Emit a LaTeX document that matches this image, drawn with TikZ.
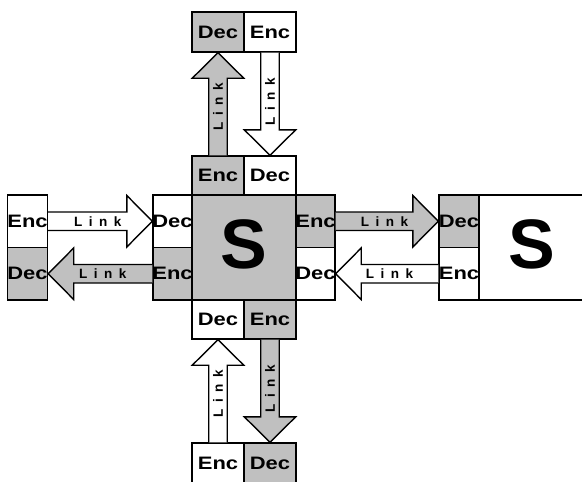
\documentclass[tikz,border=0pt]{standalone}
\usepackage{fontspec}
\setmainfont{Liberation Sans}
\newfontfamily\cellfont[FakeStretch=1.22]{Liberation Sans}
\usetikzlibrary{calc}
\definecolor{unitgray}{HTML}{C0C0C0}

% centred text that never widens its cell
\newcommand\celltext[1]{\makebox[0pt]{#1}}
\newcommand\linkword{L\hspace{6.5pt}i\hspace{6.5pt}n\hspace{6.5pt}k}

% block arrow from #2 to #3, filled with #1, label turned by #4
\newcommand\linkarrow[4]{%
  \path ($(#3)!25.5pt!(#2)$) coordinate (hb);
  \draw[arrowline, fill=#1]
    ($(#2)!9.25pt!90:(#3)$) -- ($(hb)!9.25pt!90:(#3)$)
    -- ($(hb)!25.75pt!90:(#3)$) -- (#3)
    -- ($(hb)!25.75pt!-90:(#3)$) -- ($(hb)!9.25pt!-90:(#3)$)
    -- ($(#2)!9.25pt!-90:(#3)$);
  \node[linklabel, rotate=#4] at ($(#2)!0.5!(#3)!2.5pt!(#2)$) {\linkword};
}

\tikzset{
  cell/.style 2 args={draw, line width=1.4pt, inner sep=0pt,
    minimum width=#1, minimum height=#2,
    font=\cellfont\bfseries\fontsize{18pt}{18pt}\selectfont},
  wide/.style={cell={52pt}{40pt}},
  flat/.style={cell={52pt}{39pt}},
  side/.style={cell={39pt}{52.5pt}},
  outside/.style={cell={40pt}{52.5pt}},
  core/.style={cell={104pt}{105pt}},
  shade/.style={fill=unitgray},
  blank/.style={fill=white},
  arrowline/.style={line width=1.4pt, line join=miter},
  linklabel/.style={inner sep=0pt, font=\bfseries\fontsize{13.5pt}{13.5pt}\selectfont},
  bigS/.style={inner sep=0pt, font=\bfseries\fontsize{70pt}{70pt}\selectfont}
}

\begin{document}
\begin{tikzpicture}[x=1pt, y=-1pt]
  \useasboundingbox (0,0) rectangle (582,482);

  % central switch with its four ports
  \node[core, shade] (S) at (244,247.5) {};
  \node[bigS] (Stext) at (243.5,244) {S};

  \node[flat, shade] (tiEnc) at (218,175.5) {\celltext{Enc}};
  \node[flat, blank] (tiDec) at (270,175.5) {\celltext{Dec}};
  \node[flat, blank] (biDec) at (218,319.5) {\celltext{Dec}};
  \node[flat, shade] (biEnc) at (270,319.5) {\celltext{Enc}};
  \node[side, blank] (liDec) at (172.5,221.25) {\celltext{Dec}};
  \node[side, shade] (liEnc) at (172.5,273.75) {\celltext{Enc}};
  \node[side, shade] (riEnc) at (315.5,221.25) {\celltext{Enc}};
  \node[side, blank] (riDec) at (315.5,273.75) {\celltext{Dec}};

  % neighbour ports
  \node[wide, shade] (tDec) at (218,32) {\celltext{Dec}};
  \node[wide, blank] (tEnc) at (270,32) {\celltext{Enc}};
  \node[wide, blank] (bEnc) at (218,463) {\celltext{Enc}};
  \node[wide, shade] (bDec) at (270,463) {\celltext{Dec}};
  \node[outside, blank] (lEnc) at (27.5,221.25) {\celltext{Enc}};
  \node[outside, shade] (lDec) at (27.5,273.75) {\celltext{Dec}};
  \node[outside, shade] (rDec) at (459,221.25) {\celltext{Dec}};
  \node[outside, blank] (rEnc) at (459,273.75) {\celltext{Enc}};

  % right-hand switch
  \node[core, blank] (rS) at (531,247.5) {};
  \node[bigS] (rStext) at (532,244.5) {S};

  % links
  \linkarrow{unitgray}{tiEnc.north}{tDec.south}{90}
  \linkarrow{white}{tEnc.south}{tiDec.north}{90}
  \linkarrow{white}{bEnc.north}{biDec.south}{90}
  \linkarrow{unitgray}{biEnc.south}{bDec.north}{90}
  \linkarrow{white}{lEnc.east}{liDec.west}{0}
  \linkarrow{unitgray}{liEnc.west}{lDec.east}{0}
  \linkarrow{unitgray}{riEnc.east}{rDec.west}{0}
  \linkarrow{white}{rEnc.west}{riDec.east}{0}
\end{tikzpicture}
\end{document}
